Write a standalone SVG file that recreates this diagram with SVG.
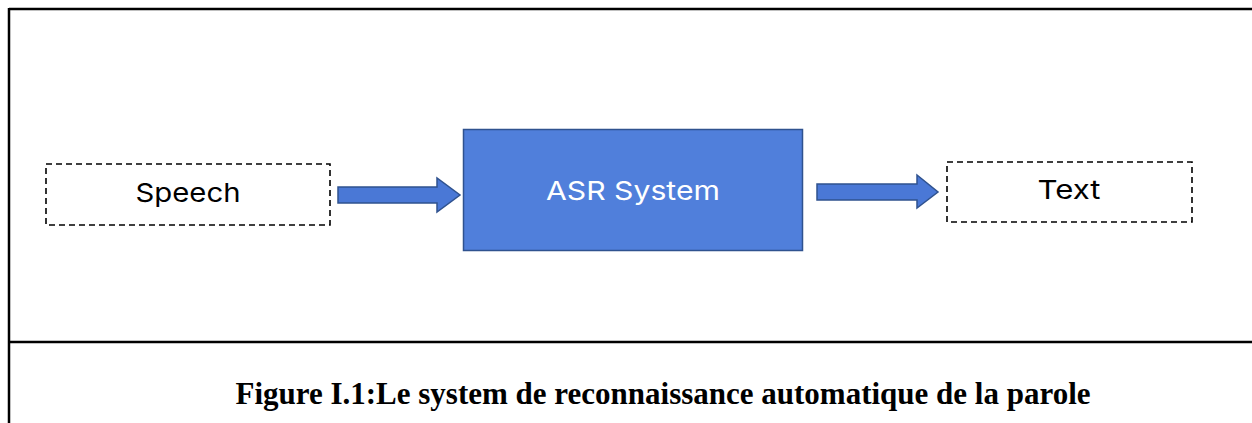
<svg xmlns="http://www.w3.org/2000/svg" width="1252" height="423" viewBox="0 0 1252 423">
  <style>
    .frame { fill: none; stroke: #000; stroke-width: 2.5; }
    .io { fill: #fff; stroke: #000; stroke-width: 1.6; stroke-dasharray: 6 4; }
    .core { fill: #507fdb; stroke: #2f528f; stroke-width: 1.5; }
    .arrow { fill: #4a78d6; stroke: #2f528f; stroke-width: 1.5; stroke-linejoin: miter; }
    .lbl { font-family: Inter, Roboto, "Liberation Sans", sans-serif; font-size: 26px; text-anchor: middle; }
    .caption { font-family: "Liberation Serif", "Times New Roman", serif; font-weight: bold; font-size: 31px; text-anchor: middle; fill: #000; }
  </style>

  <!-- outer frame: top, left and caption divider -->
  <g id="frame">
    <line class="frame" x1="9" y1="9" x2="1252" y2="9"/>
    <line class="frame" x1="9" y1="8" x2="9" y2="423"/>
    <line class="frame" x1="9" y1="342" x2="1252" y2="342"/>
  </g>

  <g id="node-speech">
    <rect class="io" x="46" y="164" width="284" height="61"/>
    <text class="lbl" x="188" y="202" fill="#000" textLength="105" lengthAdjust="spacingAndGlyphs">Speech</text>
  </g>

  <g id="node-asr">
    <rect class="core" x="463.5" y="129.5" width="339" height="121"/>
    <text class="lbl" x="633" y="200" fill="#fff" textLength="174" lengthAdjust="spacingAndGlyphs">ASR System</text>
  </g>

  <g id="node-text">
    <rect class="io" x="947" y="162" width="245" height="60"/>
    <text class="lbl" x="1069" y="199" fill="#000" textLength="63" lengthAdjust="spacingAndGlyphs">Text</text>
  </g>

  <!-- block arrows between the stages -->
  <g id="connectors">
    <polygon class="arrow" points="338,187 437,187 437,178 460,195 437,212 437,203 338,203"/>
    <polygon class="arrow" points="817,184 917,184 917,175 938,192 917,208 917,200 817,200"/>
  </g>

  <text class="caption" x="663" y="404">Figure I.1:Le system de reconnaissance automatique de la parole</text>
</svg>
